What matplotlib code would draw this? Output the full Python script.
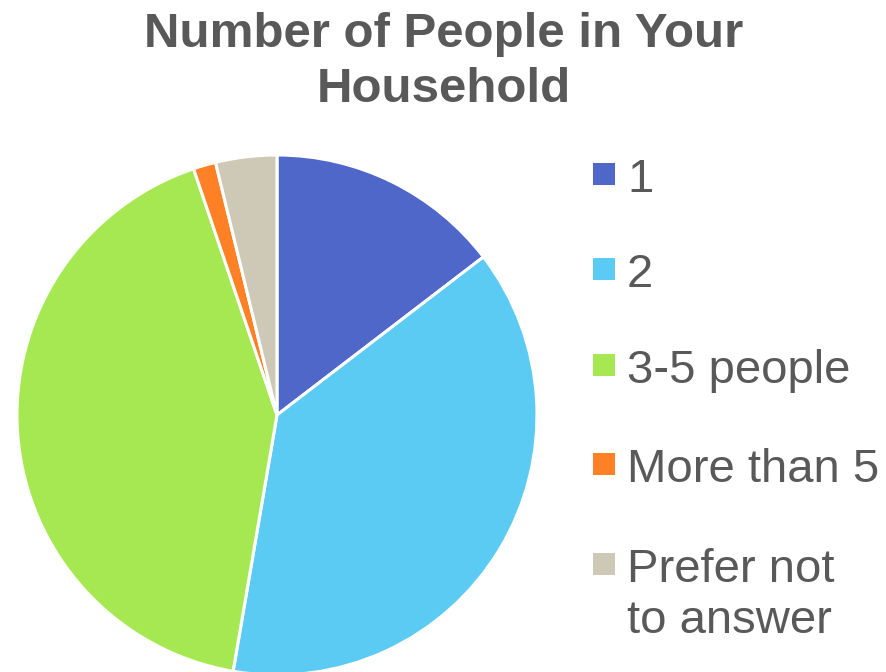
import matplotlib
matplotlib.use("Agg")
import matplotlib.pyplot as plt
from matplotlib.patches import Rectangle

# household size shares (%)
categories = ["1", "2", "3-5 people", "More than 5", "Prefer not\nto answer"]
shares = [14.6, 38.1, 42.1, 1.4, 3.8]
colors = ["#4F67C9", "#5BCBF3", "#A6E851", "#FF8025", "#CEC8B7"]
title = "Number of People in Your\nHousehold"

plt.rcParams['font.family'] = ['Liberation Sans', 'DejaVu Sans']

W, H = 887, 672
fig = plt.figure(figsize=(W / 100, H / 100), dpi=100)

# pie axes: centre ~(277, 415) px, radius ~260 px
cx, cy, r = 277, 415, 260
ax = fig.add_axes([(cx - r) / W, (H - cy - r) / H, 2 * r / W, 2 * r / H])
ax.pie(shares, colors=colors, startangle=90, counterclock=False,
       wedgeprops=dict(edgecolor="white", linewidth=2.2))
ax.set_xlim(-1, 1)
ax.set_ylim(-1, 1)
ax.set_aspect("equal")
ax.axis("off")

# title, one line at a time (baselines in px from top)
for i, line in enumerate(title.split("\n")):
    fig.text(444 / W, 1 - (47 + i * 55) / H, line, ha="center", va="baseline",
             fontsize=35.5, fontweight="bold", color="#595959")

# legend drawn by hand
baselines = [192, 287, 383, 482, 582]
for lab, col, b in zip(categories, colors, baselines):
    fig.patches.append(Rectangle((593 / W, 1 - (b - 7) / H), 22 / W, 22 / H,
                                 transform=fig.transFigure, facecolor=col,
                                 edgecolor="none"))
    for j, line in enumerate(lab.split("\n")):
        fig.text(627 / W, 1 - (b + j * 51) / H, line, ha="left", va="baseline",
                 fontsize=34, color="#595959")

fig.savefig("out.png", dpi=100)
